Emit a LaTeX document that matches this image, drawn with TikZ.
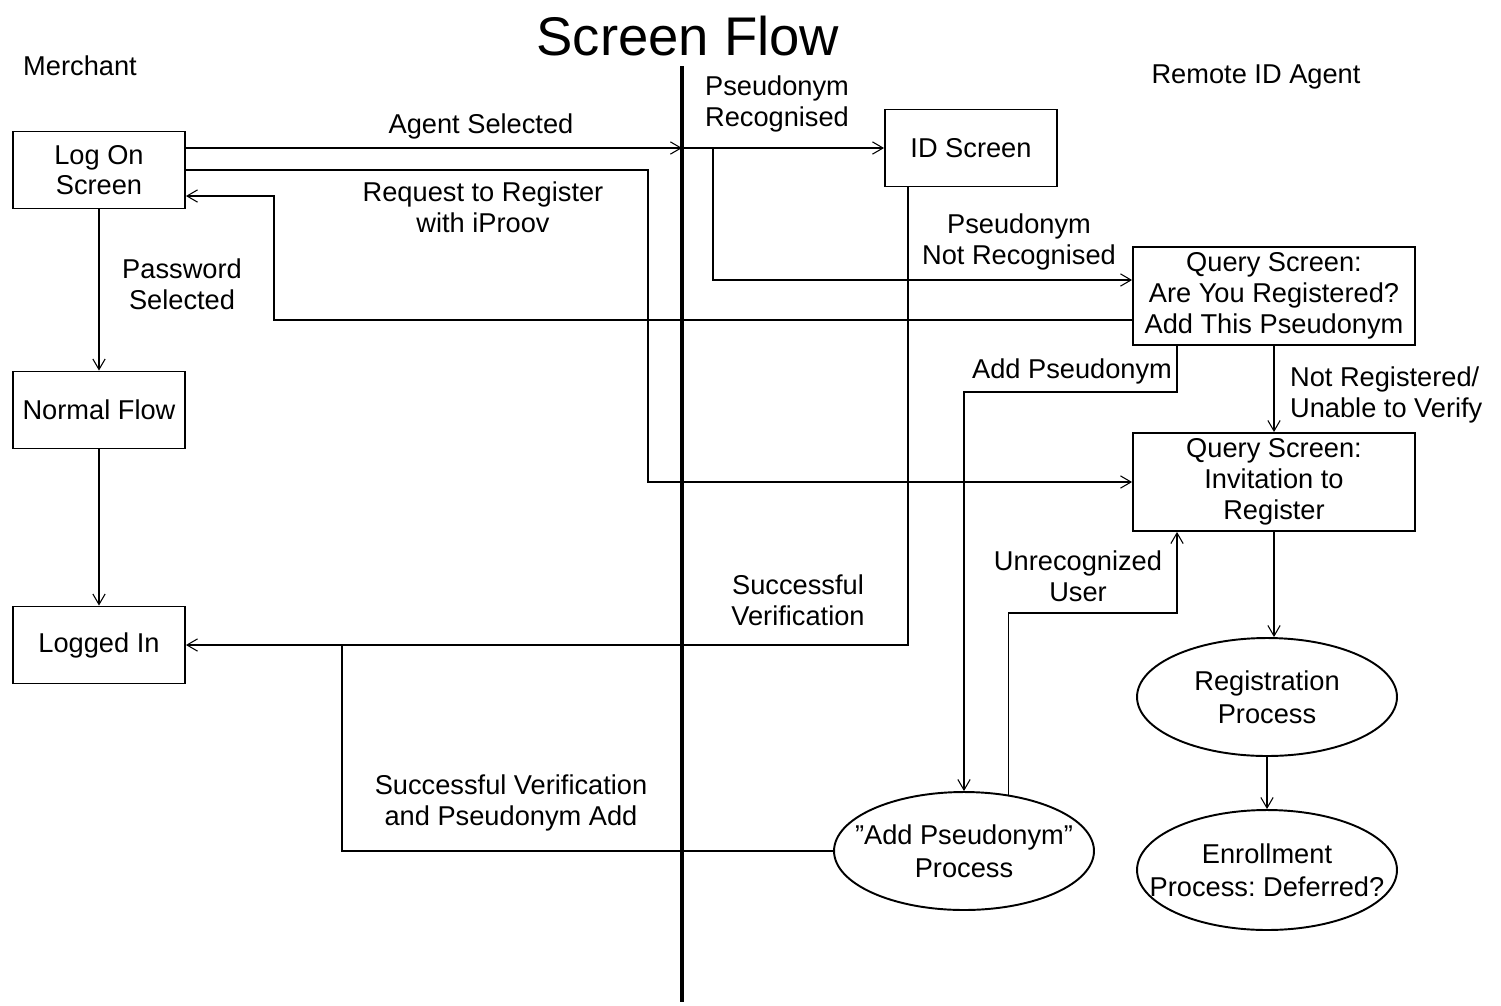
\documentclass[tikz,border=0pt]{standalone}
\usepackage{fontspec}
\setmainfont{Liberation Sans}
\usetikzlibrary{shapes.geometric,arrows.meta}
\begin{document}
\frenchspacing
\begin{tikzpicture}[x=0.02cm,y=-0.02cm,
  every node/.style={font=\fontsize{15.5}{17.5}\selectfont, align=center},
  box/.style={draw, line width=1.1pt, minimum width=3.44cm, minimum height=1.54cm, inner sep=2pt},
  wbox/.style={draw, line width=1.1pt, minimum width=5.64cm, minimum height=1.96cm, inner sep=2pt},
  oval/.style={draw, ellipse, line width=1.1pt, minimum width=5.2cm, minimum height=2.36cm, inner sep=0pt},
  ovaltext/.style={inner sep=0pt, font=\fontsize{15.5}{19}\selectfont},
  conn/.style={line width=0.6pt},
  arr/.style={conn, -{Straight Barb[length=6pt,width=7pt]}},
  lbl/.style={inner sep=1pt}]
\useasboundingbox (0,0) rectangle (1501,1005);
% title and lane headings
\node[font=\fontsize{31}{36}\selectfont] (title) at (688,36) {Screen Flow};
\node (merchant) at (80,66) {Merchant};
\node (remote) at (1256,77) {Remote ID Agent};
% divider
\coordinate (divtop) at (682,66);
\coordinate (divbot) at (682,1002);
\draw[line width=1.8pt] (divtop) -- (divbot);
% nodes
\node[box] (logon) at (99,170) {Log On\\Screen};
\node[box] (normal) at (99,410) {Normal Flow};
\node[box] (logged) at (99,645) {Logged In};
\node[box] (idscr) at (971,148) {ID Screen};
\node[wbox] (q1) at (1274,296) {Query Screen:\\Are You Registered?\\Add This Pseudonym};
\node[wbox] (q2) at (1274,482) {Query Screen:\\Invitation to\\Register};
\node[oval] (reg) at (1267,697) {};
\node[ovaltext] (regt) at (reg) {Registration\\Process};
\node[oval, minimum height=2.4cm] (enr) at (1267,870) {};
\node[ovaltext] (enrt) at (enr) {Enrollment\\Process: Deferred?};
\node[oval] (addp) at (964,851) {};
\node[ovaltext] (addpt) at (addp) {"Add Pseudonym"\\Process};
% helper coordinates
\coordinate (x713) at (713,280);
\coordinate (x648) at (648,170);
\coordinate (x274) at (274,320);
\coordinate (x908) at (908,645);
\coordinate (x1177a) at (1177,392);
\coordinate (x1177b) at (1177,613);
\coordinate (x342) at (342,645);
\coordinate (y196) at (185,196);
% connectors
\draw[arr] (logon.east |- idscr) -- (divtop |- idscr);
\draw[arr] (divtop |- idscr) -- (idscr.west);
\draw[arr] (x713 |- idscr) -- (x713) -- (q1.west |- x713);
\draw[arr] (logon.east) -- (x648) |- (q2.west);
\draw[arr] (q1.west |- x274) -- (x274) |- (logon.east |- y196);
\draw[arr] (logon.south) -- (normal.north);
\draw[arr] (normal.south) -- (logged.north);
\draw[arr] (idscr.south -| x908) -- (x908) -- (logged.east);
\draw[arr] (q1.south -| x1177a) -- (x1177a) -| (addp.north);
\draw[arr] (q1.south) -- (q2.north);
\draw[arr] (addp.52) |- (x1177b) -- (q2.south -| x1177b);
\draw[arr] (q2.south) -- (reg.north -| q2.south);
\draw[arr] (reg.south) -- (enr.north);
\draw[conn] (addp.west) -- (x342 |- addp.west) -- (x342);
% labels
\node[lbl] (lagent) at (481,126) {Agent Selected};
\node[lbl] (lreq) at (483,207) {Request to Register\\with iProov};
\node[lbl] (lpass) at (182,284) {Password\\Selected};
\node[lbl] (lrec) at (777,104) {Pseudonym\\Recognised};
\node[lbl] (lnotrec) at (1019,242) {Pseudonym\\Not Recognised};
\node[lbl] (laddp) at (1072,371) {Add Pseudonym};
\node[lbl, align=left, anchor=west] (lnotreg) at (1288,395) {Not Registered/\\Unable to Verify};
\node[lbl] (lunrec) at (1078,576) {Unrecognized\\User};
\node[lbl] (lsucc) at (798,600) {Successful\\Verification};
\node[lbl] (lsuccadd) at (511,803) {Successful Verification\\and Pseudonym Add};
\end{tikzpicture}
\end{document}
